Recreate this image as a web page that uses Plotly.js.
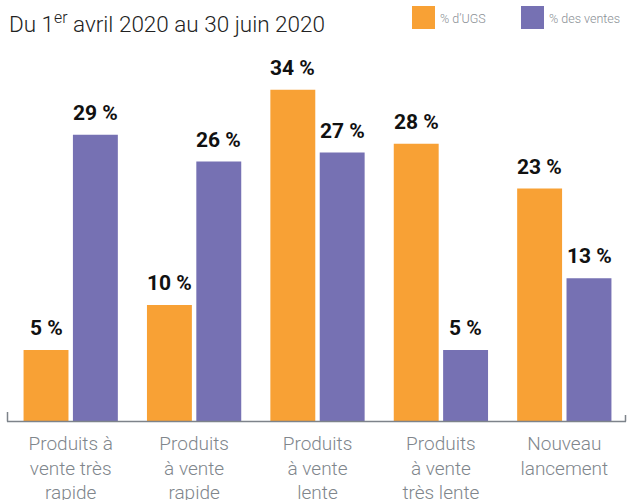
<!DOCTYPE html>
<html>
<head>
<meta charset="utf-8">
<script src="https://cdn.plot.ly/plotly-3.0.1.min.js"></script>
<style>html,body{margin:0;padding:0;background:#fff;}#chart{width:630px;height:500px;}</style>
</head>
<body>
<div id="chart"></div>
<script>
const categories = [
  "Produits à<br>vente très<br>rapide",
  "Produits<br>à vente<br>rapide",
  "Produits<br>à vente<br>lente",
  "Produits<br>à vente<br>très lente",
  "Nouveau<br>lancement"
];
const seriesNames = ["% d’UGS", "% des ventes"];
const ugsValues = [5, 10, 34, 28, 23];
const ventesValues = [29, 26, 27, 5, 13];
const titleText = "Du 1<sup>er</sup> avril 2020 au 30 juin 2020";

const COLORS = ["#F8A135", "#7671B3"];
const OFFSET = 2.92; // bars in the original rise from below the zero line
const FONT = "Roboto, 'Open Sans', sans-serif";

function barTrace(name, vals, color) {
  return {
    type: "bar",
    name: name,
    x: categories,
    y: vals.map(v => v + OFFSET),
    base: -OFFSET,
    marker: {color: color, line: {width: 0}},
    hoverinfo: "skip",
    showlegend: false
  };
}

const data = [
  barTrace(seriesNames[0], ugsValues, COLORS[0]),
  barTrace(seriesNames[1], ventesValues, COLORS[1])
];

const annotations = [];
[ugsValues, ventesValues].forEach((vals, s) => {
  vals.forEach((v, i) => {
    annotations.push({
      x: categories[i], y: v, xref: "x", yref: "y",
      text: v + " %", showarrow: false,
      xanchor: "center", yanchor: "bottom",
      xshift: s === 0 ? -24.7 : 24.7, yshift: 8,
      font: {family: FONT, size: 21, color: "#111", weight: 700}
    });
  });
});

const W = 617, H = 371, L = 9, B = 421;
const px = x => (x - L) / W;
const py = y => (B - y) / H;

// title
annotations.push({
  xref: "paper", yref: "paper", x: px(7), y: py(22),
  xanchor: "left", yanchor: "middle", showarrow: false,
  text: titleText,
  font: {family: FONT, size: 22.5, color: "#222", weight: 300}
});

// legend (manual)
const shapes = [];
const legX = [412, 521];
seriesNames.forEach((n, i) => {
  shapes.push({type: "rect", xref: "paper", yref: "paper",
    x0: px(legX[i]), x1: px(legX[i] + 23), y0: py(29), y1: py(6),
    fillcolor: COLORS[i], line: {width: 0}});
  annotations.push({xref: "paper", yref: "paper", x: px(legX[i] + 26), y: py(19),
    xanchor: "left", yanchor: "middle", showarrow: false, text: n,
    font: {family: FONT, size: 12.5, color: "#8a8f95", weight: 300}});
});

// baseline with end ticks
const AX = "#7d838a";
shapes.push({type: "line", xref: "paper", yref: "paper", x0: px(7), x1: px(626), y0: py(421.5), y1: py(421.5), line: {color: AX, width: 1.5}});
shapes.push({type: "line", xref: "paper", yref: "paper", x0: px(7.5), x1: px(7.5), y0: py(421.5), y1: py(412), line: {color: AX, width: 1.5}});
shapes.push({type: "line", xref: "paper", yref: "paper", x0: px(625.5), x1: px(625.5), y0: py(421.5), y1: py(415), line: {color: AX, width: 1.5}});

const layout = {
  width: 630, height: 500,
  margin: {l: L, r: 630 - L - W, t: B - H, b: 500 - B, autoexpand: false},
  paper_bgcolor: "#fff", plot_bgcolor: "#fff",
  barmode: "group", bargap: 0.2, bargroupgap: 0.09,
  showlegend: false,
  xaxis: {
    type: "category", range: [-0.5, 4.5], fixedrange: true, automargin: false,
    showline: false, showgrid: false, zeroline: false, ticks: "",
    ticklabelstandoff: 9,
    tickfont: {family: FONT, size: 19, color: "#80868c", weight: 300}
  },
  yaxis: {
    range: [-OFFSET, -OFFSET + H / 8.97], visible: false, fixedrange: true, automargin: false
  },
  annotations: annotations,
  shapes: shapes
};

Plotly.newPlot("chart", data, layout, {displayModeBar: false, staticPlot: true});
</script>
</body>
</html>
